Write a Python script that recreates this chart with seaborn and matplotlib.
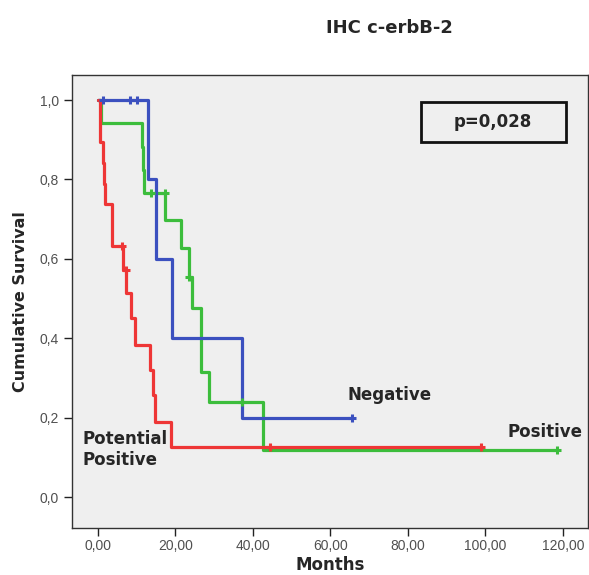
import matplotlib
matplotlib.use("Agg")
import matplotlib.pyplot as plt
import pandas as pd
import seaborn as sns
from matplotlib.patches import Rectangle

# Kaplan-Meier steps (months, cumulative survival)
neg_times = [0, 12.8, 15.0, 19.0, 37.1, 65.7]
neg_surv = [1.0, 0.8, 0.6, 0.4, 0.2, 0.2]
neg_cens_t = [1.3, 8.4, 10.1, 65.7]
neg_cens_s = [1.0, 1.0, 1.0, 0.2]

pos_times = [0, 0.9, 11.4, 11.6, 11.9, 17.3, 21.5, 23.6, 24.3, 26.6, 28.7, 42.5, 118.4]
pos_surv = [1.0, 0.941, 0.882, 0.824, 0.765, 0.699, 0.626, 0.555, 0.475, 0.316, 0.240, 0.118, 0.118]
pos_cens_t = [13.6, 17.3, 23.6, 37.1, 118.4]
pos_cens_s = [0.765, 0.765, 0.555, 0.240, 0.118]

pot_times = [0, 0.5, 0.6, 1.4, 1.6, 1.7, 3.5, 3.6, 6.4, 7.3, 8.6, 9.5, 13.4, 14.1, 14.6, 18.8, 99.0]
pot_surv = [1.0, 0.947, 0.895, 0.842, 0.789, 0.737, 0.684, 0.632, 0.573, 0.513, 0.450, 0.383,
            0.320, 0.257, 0.190, 0.127, 0.127]
pot_cens_t = [6.2, 7.2, 44.4, 99.0]
pot_cens_s = [0.632, 0.573, 0.127, 0.127]

x_ticks = [0, 20, 40, 60, 80, 100, 120]
x_tick_labels = ["0,00", "20,00", "40,00", "60,00", "80,00", "100,00", "120,00"]
y_ticks = [0.0, 0.2, 0.4, 0.6, 0.8, 1.0]
y_tick_labels = ["0,0", "0,2", "0,4", "0,6", "0,8", "1,0"]

BLUE = "#3b50bf"
GREEN = "#3cbd3c"
RED = "#ee3636"

sns.set_theme(style = "white")
plt.rcParams["font.family"] = ["Liberation Sans", "DejaVu Sans"]
BOLD_FONT = ["DejaVu Sans"]

fig = plt.figure(figsize = (5.89, 5.75), dpi = 100)
ax = fig.add_axes([72 / 589, 1 - 528 / 575, 516 / 589, 453 / 575])
ax.set_facecolor("#efefef")

# Draw order: green underneath, red on top
groups = [
    (pos_times, pos_surv, pos_cens_t, pos_cens_s, GREEN),
    (neg_times, neg_surv, neg_cens_t, neg_cens_s, BLUE),
    (pot_times, pot_surv, pot_cens_t, pot_cens_s, RED),
]
for t, s, ct, cs, col in groups:
    curve = pd.DataFrame({"months": t, "survival": s})
    sns.lineplot(data = curve, x = "months", y = "survival", ax = ax, color = col,
                 drawstyle = "steps-post", linewidth = 2.3, estimator = None, legend = False)
    cens = pd.DataFrame({"months": ct, "survival": cs})
    sns.scatterplot(data = cens, x = "months", y = "survival", ax = ax, color = col,
                    marker = "+", s = 30, linewidth = 2.2, legend = False, zorder = 3)

ax.set_xlim(-6.7, 126.5)
ax.set_ylim(-0.078, 1.063)
ax.set_xticks(x_ticks)
ax.set_xticklabels(x_tick_labels)
ax.set_yticks(y_ticks)
ax.set_yticklabels(y_tick_labels)
ax.tick_params(axis = "both", direction = "out", length = 6, width = 1, color = "#222222",
               labelsize = 10, labelcolor = "#505050", left = True, bottom = True)
ax.tick_params(axis = "x", pad = 2)
for side in ax.spines.values():
    side.set_color("#333333")
    side.set_linewidth(1.0)

ax.set_xlabel("Months", fontsize = 12, fontweight = "bold", family = BOLD_FONT)
ax.xaxis.set_label_coords(0.5, -0.062)
ax.set_ylabel("Cumulative Survival", fontsize = 11.5, fontweight = "bold", family = BOLD_FONT)
ax.yaxis.set_label_coords(-0.085, 0.5)

# Curve labels
ax.text(64.5, 0.257, "Negative", fontsize = 12, fontweight = "bold", va = "center", ha = "left",
        family = BOLD_FONT)
ax.text(105.8, 0.165, "Positive", fontsize = 12, fontweight = "bold", va = "center", ha = "left",
        family = BOLD_FONT)
ax.text(-3.9, 0.12, "Potential\nPositive", fontsize = 12, fontweight = "bold", va = "center",
        ha = "left", linespacing = 1.25, family = BOLD_FONT)

# p-value box
fig.patches.append(Rectangle((421 / 589, 1 - 142 / 575), 145 / 589, 40 / 575,
                             transform = fig.transFigure, fill = False,
                             edgecolor = "#111111", linewidth = 2.0))
fig.text(493 / 589, 1 - 122 / 575, "p=0,028", fontsize = 12, fontweight = "bold",
         ha = "center", va = "center", family = BOLD_FONT)

fig.text(389 / 589, 1 - 28 / 575, "IHC c-erbB-2", fontsize = 13, fontweight = "bold",
         ha = "center", va = "center", family = BOLD_FONT)

fig.savefig("out.png", dpi = 100)
plt.close(fig)
